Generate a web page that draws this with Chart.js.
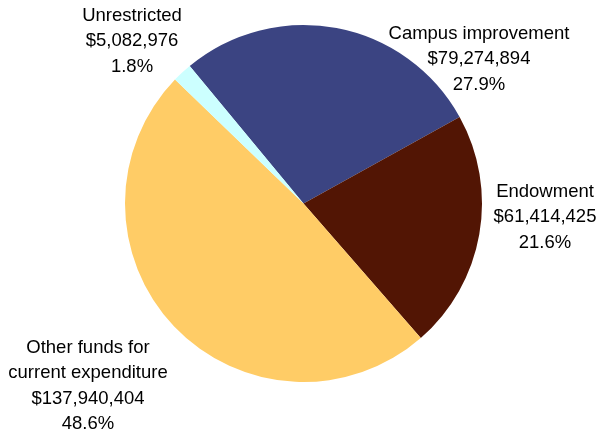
<!DOCTYPE html>
<html>
<head>
<meta charset="utf-8">
<script src="https://cdn.jsdelivr.net/npm/chart.js@4"></script>
<style>
  html, body { margin: 0; padding: 0; background: #fff; }
  #wrap { width: 600px; height: 432px; }
</style>
</head>
<body>
<div id="wrap"><canvas id="pie"></canvas></div>
<script>
// Fund sources, in drawing order (clockwise from the campus slice)
const categories = ["Campus improvement", "Endowment", "Other funds for\ncurrent expenditure", "Unrestricted"];
const amounts = [79274894, 61414425, 137940404, 5082976];
const colors = ["#3b4482", "#521504", "#ffcc66", "#ccffff"];

// label anchors (centre of first text line, px on the canvas)
const labelPos = [[479, 34], [545, 192], [88, 348], [132, 16]];

const total = amounts.reduce((a, b) => a + b, 0);
const money = v => "$" + v.toLocaleString("en-US");
const pct = v => (v / total * 100).toFixed(1) + "%";

const outsideLabels = {
  id: "outsideLabels",
  afterDraw(chart) {
    const ctx = chart.ctx;
    ctx.save();
    ctx.font = "18.5px 'Liberation Sans', Arial, sans-serif";
    ctx.fillStyle = "#000";
    ctx.textAlign = "center";
    ctx.textBaseline = "middle";
    categories.forEach((c, i) => {
      const lines = c.split("\n").concat([money(amounts[i]), pct(amounts[i])]);
      const [x, y] = labelPos[i];
      lines.forEach((ln, k) => ctx.fillText(ln, x, y + k * 25.3));
    });
    ctx.restore();
  }
};

new Chart(document.getElementById("pie"), {
  type: "pie",
  data: {
    labels: categories,
    datasets: [{
      data: amounts,
      backgroundColor: colors,
      borderWidth: 0
    }]
  },
  options: {
    responsive: true,
    maintainAspectRatio: false,
    animation: false,
    rotation: -39.6,
    layout: { padding: { left: 125, right: 118, top: 25, bottom: 50 } },
    plugins: { legend: { display: false }, tooltip: { enabled: false } }
  },
  plugins: [outsideLabels]
});
</script>
</body>
</html>
